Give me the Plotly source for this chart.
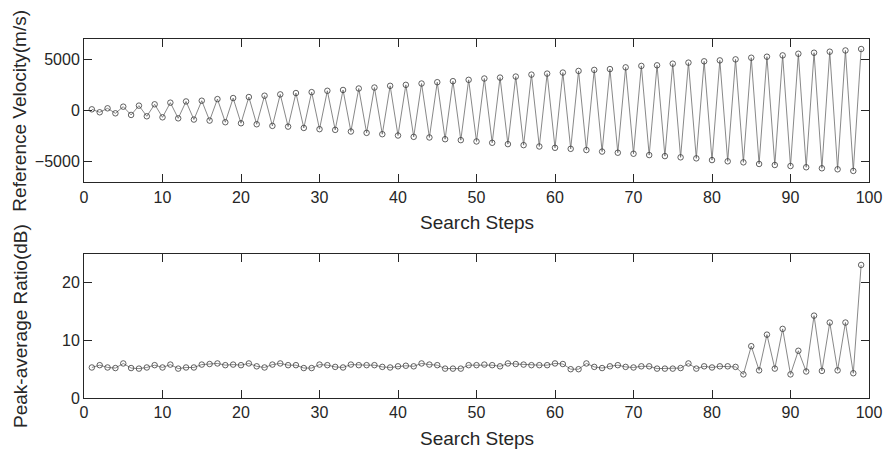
import plotly.graph_objects as go

steps = list(range(1, 100))

ref_velocity = [
    130, -160, 230, -260, 390, -420, 490, -550, 620, -650,
    780, -750, 900, -870, 970, -970, 1130, -1130, 1230, -1230,
    1330, -1330, 1460, -1490, 1590, -1560, 1720, -1690, 1810, -1810,
    1940, -1880, 2020, -2040, 2165, -2170, 2260, -2300, 2425, -2430,
    2520, -2560, 2650, -2620, 2780, -2790, 2880, -2880, 3010, -3010,
    3140, -3140, 3230, -3270, 3330, -3370, 3520, -3500, 3620, -3630,
    3720, -3730, 3880, -3850, 3980, -4000, 4060, -4110, 4230, -4210,
    4370, -4340, 4430, -4440, 4590, -4560, 4690, -4660, 4820, -4830,
    4910, -4950, 5010, -5050, 5170, -5210, 5270, -5310, 5400, -5410,
    5560, -5530, 5660, -5630, 5760, -5730, 5880, -5890, 6020,
]

peak_avg_ratio = [
    5.3, 5.7, 5.3, 5.2, 6.0, 5.2, 5.1, 5.3, 5.7, 5.3,
    5.8, 5.1, 5.3, 5.3, 5.8, 5.9, 6.0, 5.7, 5.8, 5.7,
    6.0, 5.5, 5.3, 5.8, 6.0, 5.7, 5.7, 5.2, 5.2, 5.8,
    5.7, 5.4, 5.3, 5.8, 5.7, 5.7, 5.7, 5.4, 5.3, 5.5,
    5.6, 5.5, 6.0, 5.8, 5.7, 5.1, 5.1, 5.1, 5.7, 5.7,
    5.8, 5.7, 5.5, 6.0, 5.9, 5.8, 5.7, 5.7, 5.7, 6.0,
    5.9, 5.0, 5.0, 6.0, 5.4, 5.2, 5.5, 5.7, 5.4, 5.3,
    5.5, 5.5, 5.1, 5.1, 5.1, 5.2, 6.0, 5.1, 5.5, 5.3,
    5.5, 5.5, 5.4, 4.1, 9.0, 4.8, 11.0, 5.1, 12.0, 4.1,
    8.2, 4.6, 14.3, 4.7, 13.1, 4.8, 13.1, 4.3, 23.1,
]

x_ticks = [0, 10, 20, 30, 40, 50, 60, 70, 80, 90, 100]
top_y_ticks = [-5000, 0, 5000]
bottom_y_ticks = [0, 10, 20]

FONT = "Liberation Sans, Arial, sans-serif"
AX = "#262626"

W, H = 886, 454
L, R, T, B = 84, 869, 39, 398
top_bottom_px = 182.3
bot_top_px = 254.0


def py(p):
    return (B - p) / (B - T)


def px(p):
    return (p - L) / (R - L)


fig = go.Figure()

line_style = dict(color="#6a6a6a", width=0.8)
marker_style = dict(symbol="circle-open", size=5.5, color="#3a3a3a",
                    line=dict(width=0.8, color="#3a3a3a"))

fig.add_trace(go.Scatter(x=steps, y=ref_velocity, mode="lines+markers",
                         line=line_style, marker=marker_style, xaxis="x", yaxis="y",
                         showlegend=False))
fig.add_trace(go.Scatter(x=steps, y=peak_avg_ratio, mode="lines+markers",
                         line=line_style, marker=marker_style, xaxis="x2", yaxis="y2",
                         showlegend=False))

axis_common = dict(
    showgrid=False, zeroline=False, showline=True, linecolor=AX, linewidth=1,
    mirror="ticks", ticks="inside", ticklen=8, tickwidth=1, tickcolor=AX,
    tickfont=dict(family=FONT, size=16, color=AX), automargin=False,
)

fig.update_layout(
    width=W, height=H,
    margin=dict(l=L, r=W - R, t=T, b=H - B, pad=0, autoexpand=False),
    paper_bgcolor="white", plot_bgcolor="white",
    font=dict(family=FONT, color=AX),
    xaxis=dict(domain=[0, 1], anchor="y", range=[0, 100], tickvals=x_ticks, **axis_common),
    yaxis=dict(domain=[py(top_bottom_px), 1], anchor="x", range=[-7000, 7000],
               tickvals=top_y_ticks, **axis_common),
    xaxis2=dict(domain=[0, 1], anchor="y2", range=[0, 100], tickvals=x_ticks, **axis_common),
    yaxis2=dict(domain=[0, py(bot_top_px)], anchor="x2", range=[0, 25],
                tickvals=bottom_y_ticks, **axis_common),
)

title_font = dict(family=FONT, size=19, color=AX)
ann = []
for ypix in (222, 438):
    ann.append(dict(text="Search Steps", x=0.5, xref="paper",
                    y=py(ypix), yref="paper", showarrow=False, font=title_font,
                    xanchor="center", yanchor="middle"))
ann.append(dict(text="Reference Velocity(m/s)", x=px(20), xref="paper",
                y=py((T + top_bottom_px) / 2), yref="paper", showarrow=False,
                font=title_font, textangle=-90, xanchor="center", yanchor="middle"))
ann.append(dict(text="Peak-average Ratio(dB)", x=px(20), xref="paper",
                y=py((bot_top_px + B) / 2), yref="paper", showarrow=False,
                font=title_font, textangle=-90, xanchor="center", yanchor="middle"))
fig.update_layout(annotations=ann)

fig.write_html("out.html")
